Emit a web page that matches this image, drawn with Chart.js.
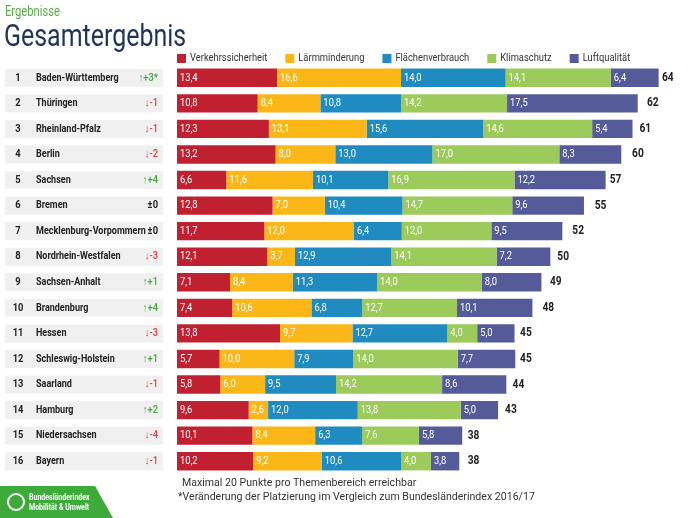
<!DOCTYPE html>
<html><head><meta charset="utf-8">
<script src="https://cdn.jsdelivr.net/npm/chart.js@4"></script>
<style>body{margin:0;background:#fff}canvas{display:block}</style>
</head><body>
<canvas id="c" width="700" height="518"></canvas>
<script>
const states = ['Baden-Württemberg','Thüringen','Rheinland-Pfalz','Berlin','Sachsen','Bremen','Mecklenburg-Vorpommern','Nordrhein-Westfalen','Sachsen-Anhalt','Brandenburg','Hessen','Schleswig-Holstein','Saarland','Hamburg','Niedersachsen','Bayern']
const changes = ['+3*','-1','-1','-2','+4','±0','±0','-3','+1','+4','-3','+1','-1','+2','-4','-1']
const totals = [64,62,61,60,57,55,52,50,49,48,45,45,44,43,38,38]
const verkehr = [13.4,10.8,12.3,13.2,6.6,12.8,11.7,12.1,7.1,7.4,13.8,5.7,5.8,9.6,10.1,10.2]
const laerm = [16.6,8.4,13.1,8.0,11.6,7.0,12.0,3.7,8.4,10.6,9.7,10.0,6.0,2.6,8.4,9.2]
const flaeche = [14.0,10.8,15.6,13.0,10.1,10.4,6.4,12.9,11.3,6.8,12.7,7.9,9.5,12.0,6.3,10.6]
const klima = [14.1,14.2,14.6,17.0,16.9,14.7,12.0,14.1,14.0,12.7,4.0,14.0,14.2,13.8,7.6,4.0]
const luft = [6.4,17.5,5.4,8.3,12.2,9.6,9.5,7.2,8.0,10.1,5.0,7.7,8.6,5.0,5.8,3.8]
const seriesNames = ['Verkehrssicherheit','Lärmminderung','Flächenverbrauch','Klimaschutz','Luftqualität']
const colors = ['#c0202f','#fbb718','#1f8bc0','#9ccb5c','#545b98']
const values = [verkehr, laerm, flaeche, klima, luft]

const fmt = v => v.toFixed(1).replace('.', ',')

// narrow text: squeeze horizontally, x is the anchor
function nText(ctx, t, x, y, sx = 0.82, align = 'left') {
  ctx.save()
  ctx.translate(x, y)
  ctx.scale(sx, 1)
  ctx.textAlign = align
  ctx.fillText(t, 0, 0)
  ctx.restore()
  return ctx.measureText(t).width * sx
}

const decor = {
  id: 'decor',
  afterDatasetsDraw(chart) {
    const ctx = chart.ctx, y = chart.scales.y, x = chart.scales.x
    ctx.save()
    ctx.textBaseline = 'middle'
    ctx.font = '11px Roboto, sans-serif'
    ctx.fillStyle = '#fff'
    chart.data.datasets.forEach((ds, di) => {
      chart.getDatasetMeta(di).data.forEach((bar, i) => {
        nText(ctx, fmt(ds.data[i]), bar.base + 3, bar.y, 0.85)
      })
    })
    ctx.fillStyle = '#222'
    ctx.font = 'bold 12px Roboto, sans-serif'
    totals.forEach((t, i) => nText(ctx, t, x.getPixelForValue(t) + 7, y.getPixelForValue(i), 0.85))
    states.forEach((s, i) => {
      const py = y.getPixelForValue(i)
      ctx.fillStyle = '#f0f0f0'
      ctx.fillRect(5, py - 9, 158, 18)
      ctx.fillStyle = '#222'
      ctx.font = 'bold 11px Roboto, sans-serif'
      nText(ctx, String(i + 1), 18, py, 0.85, 'center')
      nText(ctx, s, 36, py, 0.82)
      const c = changes[i]
      ctx.font = '500 11px Roboto, sans-serif'
      if (c[0] === '+') { ctx.fillStyle = '#3ea83a'; nText(ctx, '↑' + c, 158, py, 0.85, 'right') }
      else if (c[0] === '-') { ctx.fillStyle = '#e0403a'; nText(ctx, '↓' + c, 158, py, 0.85, 'right') }
      else { ctx.fillStyle = '#222'; ctx.font = 'bold 11px Roboto, sans-serif'; nText(ctx, c, 158, py, 0.85, 'right') }
    })
    let lx = 177
    ctx.font = '11px Roboto, sans-serif'
    seriesNames.forEach((n, i) => {
      ctx.fillStyle = colors[i]
      ctx.fillRect(lx, 54, 9, 9)
      ctx.fillStyle = '#333'
      lx += 13 + nText(ctx, n, lx + 13, 58.5, 0.85) + 18
    })
    ctx.fillStyle = '#5aae4a'
    ctx.font = '14px Roboto, sans-serif'
    nText(ctx, 'Ergebnisse', 5, 12, 0.8)
    ctx.fillStyle = '#1d3557'
    ctx.font = '32px Roboto, sans-serif'
    nText(ctx, 'Gesamtergebnis', 4, 38, 0.78)
    ctx.fillStyle = '#333'
    ctx.font = '11.5px Roboto, sans-serif'
    nText(ctx, 'Maximal 20 Punkte pro Themenbereich erreichbar', 182, 483, 0.92)
    nText(ctx, '*Veränderung der Platzierung im Vergleich zum Bundesländerindex 2016/17', 178, 497, 0.92)
    ctx.fillStyle = '#3daa3a'
    ctx.beginPath(); ctx.moveTo(0, 486); ctx.lineTo(95, 486); ctx.lineTo(113, 518); ctx.lineTo(0, 518); ctx.fill()
    ctx.beginPath(); ctx.arc(16, 502, 8, 0, Math.PI * 2); ctx.lineWidth = 2; ctx.strokeStyle = '#fff'; ctx.stroke()
    ctx.fillStyle = '#fff'
    ctx.font = 'bold 9px Roboto, sans-serif'
    nText(ctx, 'Bundesländerindex', 29, 498, 0.78)
    nText(ctx, 'Mobilität & Umwelt', 29, 508, 0.78)
    ctx.restore()
  }
}

new Chart(document.getElementById('c'), {
  type: 'bar',
  data: {
    labels: states,
    datasets: values.map((v, i) => ({ label: seriesNames[i], data: v, backgroundColor: colors[i], barPercentage: 0.72, categoryPercentage: 1 }))
  },
  options: {
    indexAxis: 'y',
    responsive: false,
    animation: false,
    layout: { padding: { left: 177, right: 10, top: 65, bottom: 44 } },
    plugins: { legend: { display: false }, tooltip: { enabled: false } },
    scales: {
      x: { stacked: true, display: false, min: 0, max: 68.7 },
      y: { stacked: true, display: false }
    }
  },
  plugins: [decor]
})
</script>
</body></html>
